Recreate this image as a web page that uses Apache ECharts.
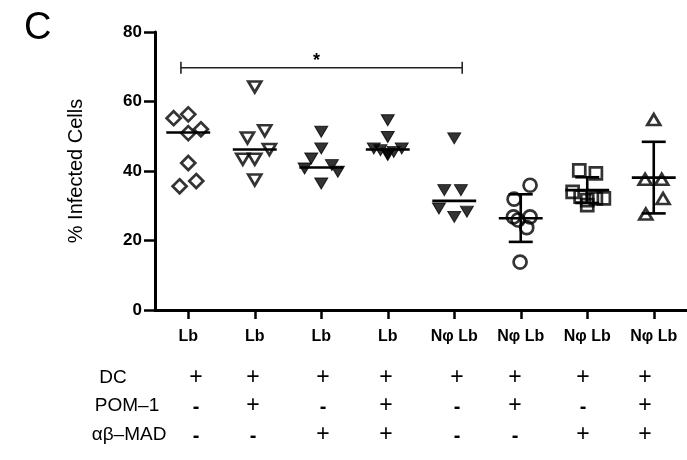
<!DOCTYPE html>
<html>
<head>
<meta charset="utf-8">
<script src="https://cdn.jsdelivr.net/npm/echarts@6/dist/echarts.min.js"></script>
<style>
html,body{margin:0;padding:0;background:#fff;}
#chart{width:687px;height:460px;}
</style>
</head>
<body>
<div id="chart"></div>
<script>
// ---- data ----
const categories = ['Lb', 'Lb', 'Lb', 'Lb', 'Nφ Lb', 'Nφ Lb', 'Nφ Lb', 'Nφ Lb'];
const yTicks = [0, 20, 40, 60, 80];

// values per group (% infected cells) and horizontal scatter offsets (category units)
const g1 = [55.2, 56.3, 50.9, 52.0, 42.3, 35.6, 37.1];
const g1Jit = [-0.22, 0, 0, 0.19, 0, -0.13, 0.12];
const g2 = [64.2, 49.5, 51.6, 46.2, 43.4, 43.4, 37.4];
const g2Jit = [0, -0.11, 0.15, 0.22, -0.18, 0, 0];
const g3 = [51.3, 46.5, 43.6, 40.7, 41.7, 39.8, 36.4];
const g3Jit = [0, 0, -0.15, -0.25, 0.16, 0.25, 0];
const g4 = [54.6, 49.8, 46.5, 46.0, 45.0, 45.5, 46.5, 44.6];
const g4Jit = [0, 0, -0.21, -0.11, 0, 0.09, 0.21, 0];
const g5 = [49.4, 34.5, 34.5, 29.2, 26.8, 28.3];
const g5Jit = [0, -0.15, 0.10, -0.23, 0, 0.19];
const g6 = [35.9, 31.9, 26.8, 25.9, 26.8, 23.7, 13.8];
const g6Jit = [0.14, -0.10, -0.11, -0.04, 0.14, 0.09, -0.01];
const g7 = [40.2, 39.3, 34.0, 32.6, 31.6, 32.1, 32.1, 30.2];
const g7Jit = [-0.12, 0.13, -0.22, -0.10, 0, 0.13, 0.25, 0];
const g8 = [54.8, 37.6, 37.6, 32.1, 27.6];
const g8Jit = [0, -0.13, 0.12, 0.14, -0.12];

// central line (median for groups 1-5, mean for 6-8) and SD whiskers
const centerLine = [51.1, 46.2, 41.0, 46.2, 31.4, 26.4, 34.5, 38.1];
const sdHigh = [null, null, null, null, null, 33.3, 38.2, 48.4];
const sdLow  = [null, null, null, null, null, 19.6, 30.8, 27.8];

// significance bar between group 1 and group 5
const sigFrom = 0, sigTo = 4, sigValue = 69.7, sigLabel = '*';

// treatment table
const rowLabels = ['DC', 'POM\u20131', '\u03b1\u03b2\u2013MAD'];
const dcRow  = ['+', '+', '+', '+', '+', '+', '+', '+'];
const pomRow = ['-', '+', '-', '+', '-', '+', '-', '+'];
const madRow = ['-', '-', '+', '+', '-', '-', '+', '+'];

// ---- layout (pixels) ----
const FONT = '"Liberation Sans", Arial, Helvetica, sans-serif';
const tableColX = [196, 253, 323, 386, 457, 515, 583, 645];
const tableRowY = [378, 406, 435];
const rowLabelX = [113, 127, 129];

const chart = echarts.init(document.getElementById('chart'), null, {renderer: 'canvas'});

function pts(vals, jit, gi) { return vals.map((v, k) => [gi + jit[k], v]); }

const openStyle = {color: 'rgba(0,0,0,0)', borderColor: '#000', borderWidth: 2.7};
const filledStyle = {color: '#000', borderColor: '#000', borderWidth: 1};

function scatter(vals, jit, gi, symbol, size, style, rotate) {
  return {
    type: 'scatter', xAxisIndex: 1, yAxisIndex: 0,
    data: pts(vals, jit, gi), symbol: symbol, symbolSize: size,
    symbolRotate: rotate || 0, itemStyle: style, silent: true, z: 3
  };
}

const lineStyle = {stroke: '#000', lineWidth: 2.6};

const series = [
  scatter(g1, g1Jit, 0, 'diamond', [14, 14], openStyle),
  scatter(g2, g2Jit, 1, 'triangle', [13, 11], openStyle, 180),
  scatter(g3, g3Jit, 2, 'triangle', [13, 11], filledStyle, 180),
  scatter(g4, g4Jit, 3, 'triangle', [13, 11], filledStyle, 180),
  scatter(g5, g5Jit, 4, 'triangle', [13, 11], filledStyle, 180),
  scatter(g6, g6Jit, 5, 'circle', [13, 13], openStyle),
  scatter(g7, g7Jit, 6, 'rect', [12, 12], openStyle),
  scatter(g8, g8Jit, 7, 'triangle', [13, 11], openStyle),
  {
    type: 'custom', xAxisIndex: 1, yAxisIndex: 0, silent: true, z: 4,
    data: centerLine.map((v, i) => [i, v]),
    renderItem: function (params, api) {
      const p = api.coord([api.value(0), api.value(1)]);
      const half = api.size([0.33, 0])[0];
      return {type: 'line', shape: {x1: p[0] - half, y1: p[1], x2: p[0] + half, y2: p[1]}, style: lineStyle};
    }
  },
  {
    type: 'custom', xAxisIndex: 1, yAxisIndex: 0, silent: true, z: 4,
    data: sdHigh.map((h, i) => [i, h, sdLow[i]]).filter(d => d[1] !== null),
    renderItem: function (params, api) {
      const top = api.coord([api.value(0), api.value(1)]);
      const bot = api.coord([api.value(0), api.value(2)]);
      const cap = api.size([0.18, 0])[0];
      return {type: 'group', children: [
        {type: 'line', shape: {x1: top[0], y1: top[1], x2: bot[0], y2: bot[1]}, style: lineStyle},
        {type: 'line', shape: {x1: top[0] - cap, y1: top[1], x2: top[0] + cap, y2: top[1]}, style: lineStyle},
        {type: 'line', shape: {x1: bot[0] - cap, y1: bot[1], x2: bot[0] + cap, y2: bot[1]}, style: lineStyle}
      ]};
    }
  },
  {
    type: 'custom', xAxisIndex: 1, yAxisIndex: 0, silent: true, z: 4,
    data: [[sigFrom, sigTo, sigValue]],
    renderItem: function (params, api) {
      const a = api.coord([api.value(0) - 0.11, api.value(2)]);
      const b = api.coord([api.value(1) + 0.12, api.value(2)]);
      const st = {stroke: '#222', lineWidth: 1.6};
      return {type: 'group', children: [
        {type: 'line', shape: {x1: a[0], y1: a[1], x2: b[0], y2: b[1]}, style: st},
        {type: 'line', shape: {x1: a[0], y1: a[1] - 6, x2: a[0], y2: a[1] + 6}, style: st},
        {type: 'line', shape: {x1: b[0], y1: b[1] - 6, x2: b[0], y2: b[1] + 6}, style: st},
        {type: 'text', x: (a[0] + b[0]) / 2 - 5, y: a[1] - 7,
          style: {text: sigLabel, font: 'bold 18px ' + FONT, fill: '#000', align: 'center', verticalAlign: 'middle'}}
      ]};
    }
  }
];

// table graphics
const graphics = [];
graphics.push({type: 'text', left: 24, top: 10,
  style: {text: 'C', font: '38px ' + FONT, fill: '#000'}});
const rows = [dcRow, pomRow, madRow];
rows.forEach((row, r) => {
  graphics.push({type: 'text', x: rowLabelX[r], y: tableRowY[r],
    style: {text: rowLabels[r], font: '19px ' + FONT, fill: '#000', align: 'center', verticalAlign: 'middle'}});
  row.forEach((s, c) => {
    graphics.push({type: 'text', x: tableColX[c], y: tableRowY[r] + (s === '+' ? 0 : 1),
      style: {text: s, font: (s === '+' ? '23px ' : 'bold 20px ') + FONT, fill: '#000', align: 'center', verticalAlign: 'middle'}});
  });
});

chart.setOption({
  animation: false,
  backgroundColor: '#fff',
  grid: {left: 155, top: 32, width: 537, height: 278, containLabel: false},
  xAxis: [
    {
      type: 'category', data: categories, boundaryGap: true,
      axisLine: {show: true, onZero: false, lineStyle: {color: '#000', width: 3}},
      axisTick: {show: true, alignWithLabel: true, length: 9, lineStyle: {color: '#000', width: 2.5}},
      axisLabel: {color: '#000', fontFamily: FONT, fontWeight: 'bold', fontSize: 16, margin: 19, interval: 0},
      splitLine: {show: false}
    },
    {type: 'value', min: -0.5, max: 7.5, show: false}
  ],
  yAxis: {
    type: 'value', min: yTicks[0], max: yTicks[yTicks.length - 1], interval: 20,
    axisLine: {show: true, onZero: false, lineStyle: {color: '#000', width: 3}},
    axisTick: {show: true, length: 11, lineStyle: {color: '#000', width: 2.5}},
    axisLabel: {color: '#000', fontFamily: FONT, fontWeight: 'bold', fontSize: 17, margin: 13},
    splitLine: {show: false},
    name: '% Infected Cells', nameLocation: 'middle', nameGap: 69,
    nameTextStyle: {color: '#000', fontFamily: FONT, fontSize: 20}
  },
  graphic: graphics,
  series: series
});
</script>
</body>
</html>
